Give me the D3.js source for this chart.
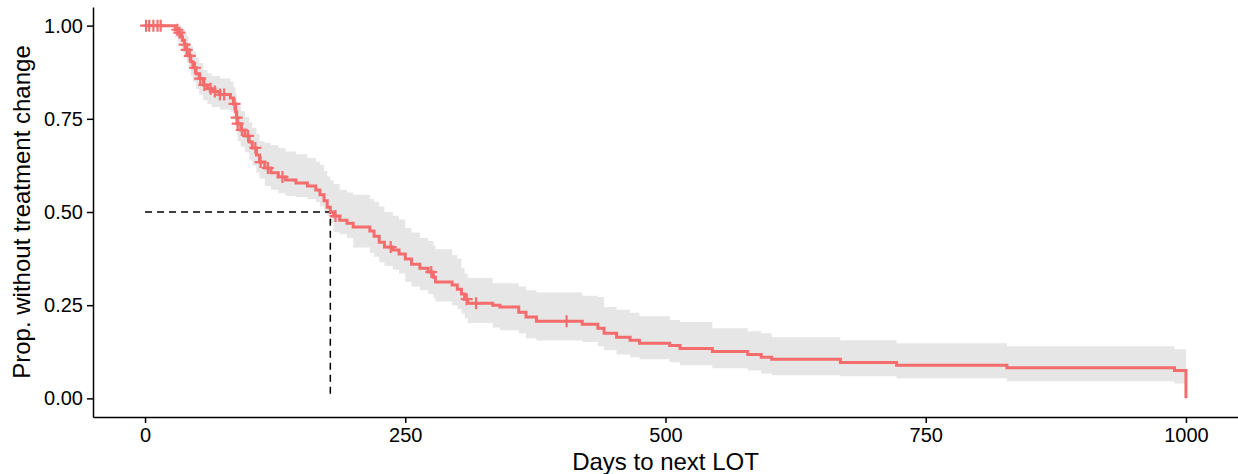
<!DOCTYPE html>
<html>
<head>
<meta charset="utf-8">
<script src="https://cdn.jsdelivr.net/npm/d3@7/dist/d3.min.js"></script>
<style>
  html, body { margin: 0; padding: 0; background: #fff; }
  svg { display: block; }
  text { font-family: "Liberation Sans", Arial, Helvetica, sans-serif; }
</style>
</head>
<body>
<svg id="chart" width="1238" height="474"></svg>
<script>
// ---- Data ----
const times = [0,29,32,35,36,38,40,42,44,46,49,52,56,60,64,72,82,85,87,88,89,92,96,100,103,107,110,115,121,128,135,145,156,164,168,172,175,178,181,187,194,200,216,220,225,230,238,244,250,256,264,272,277,279,295,300,304,307,310,334,341,359,366,376,420,435,441,453,466,475,504,514,545,579,592,602,668,722,828,989,1000];
const surv = [1,0.989,0.981,0.970,0.960,0.949,0.935,0.919,0.903,0.887,0.871,0.858,0.841,0.831,0.823,0.815,0.806,0.790,0.769,0.753,0.737,0.720,0.704,0.688,0.672,0.653,0.634,0.618,0.605,0.594,0.586,0.578,0.570,0.559,0.546,0.530,0.513,0.500,0.489,0.478,0.470,0.460,0.449,0.435,0.419,0.406,0.398,0.387,0.374,0.360,0.349,0.339,0.325,0.312,0.304,0.293,0.280,0.266,0.255,0.250,0.245,0.231,0.218,0.207,0.199,0.188,0.175,0.164,0.156,0.148,0.142,0.134,0.126,0.118,0.110,0.105,0.096,0.089,0.082,0.075,0];
const upper = [1,1,1,0.995,0.99,0.98,0.97,0.955,0.945,0.93,0.915,0.90,0.88,0.872,0.865,0.858,0.85,0.835,0.815,0.80,0.785,0.77,0.755,0.74,0.726,0.71,0.69,0.685,0.68,0.672,0.662,0.655,0.645,0.635,0.626,0.61,0.595,0.585,0.575,0.56,0.552,0.546,0.535,0.527,0.515,0.50,0.49,0.48,0.457,0.445,0.43,0.422,0.411,0.40,0.384,0.375,0.349,0.335,0.323,0.309,0.309,0.30,0.29,0.284,0.275,0.272,0.245,0.238,0.23,0.22,0.21,0.205,0.188,0.18,0.175,0.164,0.156,0.148,0.140,0.132,null];
const lower = [1,0.968,0.955,0.94,0.928,0.914,0.90,0.885,0.866,0.85,0.83,0.815,0.80,0.79,0.782,0.775,0.768,0.75,0.728,0.71,0.69,0.675,0.66,0.64,0.625,0.605,0.59,0.57,0.56,0.55,0.543,0.54,0.535,0.527,0.515,0.50,0.49,0.47,0.446,0.44,0.43,0.405,0.39,0.38,0.365,0.355,0.345,0.335,0.312,0.30,0.29,0.28,0.27,0.26,0.25,0.24,0.228,0.215,0.202,0.19,0.183,0.175,0.161,0.155,0.151,0.14,0.129,0.118,0.11,0.105,0.097,0.089,0.081,0.075,0.067,0.062,0.059,0.054,0.046,0.040,null];
const censorTimes = [1,4,8,12,15,31,33,38,40,43,48,53,57,63,67,72,76,86,88,89,93,99,106,111,118,132,183,236,275,309,318,405];
const medianTime = 178;
const xTicks = [0,250,500,750,1000];
const yTicks = [0,0.25,0.5,0.75,1];
const xTitle = "Days to next LOT";
const yTitle = "Prop. without treatment change";

// ---- Layout ----
const plotL = 93, plotR = 1238, plotT = 7, plotB = 417;
const svg = d3.select("#chart");

const x = d3.scaleLinear().domain([-50, 1050]).range([plotL, plotR]);
const y = d3.scaleLinear().domain([-0.05, 1.05]).range([plotB, plotT]);

const curveColor = "#F46C6C";

const steps = times.map((t, i) => ({ t, s: surv[i], lo: lower[i], up: upper[i] }));

// confidence band
const bandPts = steps.filter(d => d.lo !== null);
const lastBand = bandPts[bandPts.length - 1];
bandPts.push({ t: times[times.length - 1], lo: lastBand.lo, up: lastBand.up });
svg.append("path")
  .datum(bandPts)
  .attr("fill", "#E6E6E6")
  .attr("d", d3.area().curve(d3.curveStepAfter)
    .x(d => x(d.t)).y0(d => y(d.lo)).y1(d => y(d.up)));

// median dashed lines
svg.append("path")
  .attr("d", d3.line()([[x(0), y(0.5)], [x(medianTime), y(0.5)], [x(medianTime), y(0)]]))
  .attr("fill", "none").attr("stroke", "#000").attr("stroke-width", 1.5)
  .attr("stroke-dasharray", "7,5");

// survival curve
svg.append("path")
  .datum(steps)
  .attr("fill", "none")
  .attr("stroke", curveColor)
  .attr("stroke-width", 3)
  .attr("d", d3.line().curve(d3.curveStepAfter).x(d => x(d.t)).y(d => y(d.s)));

// censor marks
function survAt(t) {
  let s = 1;
  for (let i = 0; i < times.length; i++) { if (times[i] <= t) s = surv[i]; else break; }
  return s;
}
const cs = 6;
svg.append("g").selectAll("path").data(censorTimes).join("path")
  .attr("d", t => {
    const cx = x(t), cy = y(survAt(t));
    return `M${cx - cs},${cy}H${cx + cs}M${cx},${cy - cs}V${cy + cs}`;
  })
  .attr("stroke", curveColor).attr("stroke-width", 2.2).attr("fill", "none");

// axes
const xAxis = svg.append("g").attr("transform", `translate(0,${plotB})`)
  .call(d3.axisBottom(x).tickValues(xTicks).tickSize(6).tickSizeOuter(0).tickPadding(5).tickFormat(d3.format("d")));
const yAxis = svg.append("g").attr("transform", `translate(${plotL},0)`)
  .call(d3.axisLeft(y).tickValues(yTicks).tickSize(6).tickSizeOuter(0).tickPadding(4).tickFormat(d3.format(".2f")));
[xAxis, yAxis].forEach(g => {
  g.selectAll("path.domain").attr("stroke", "#000").attr("stroke-width", 1.5);
  g.selectAll(".tick line").attr("stroke", "#000").attr("stroke-width", 1.5);
  g.selectAll(".tick text").attr("fill", "#000").style("font-size", "20px")
    .style("font-family", '"Liberation Sans", Arial, sans-serif');
});

// axis titles
svg.append("text")
  .attr("x", (plotL + plotR) / 2).attr("y", 470)
  .attr("text-anchor", "middle").style("font-size", "24px").attr("fill", "#000")
  .text(xTitle);
svg.append("text")
  .attr("transform", `translate(30,${(plotT + plotB) / 2}) rotate(-90)`)
  .attr("text-anchor", "middle").style("font-size", "24px").attr("fill", "#000")
  .text(yTitle);
</script>
</body>
</html>
